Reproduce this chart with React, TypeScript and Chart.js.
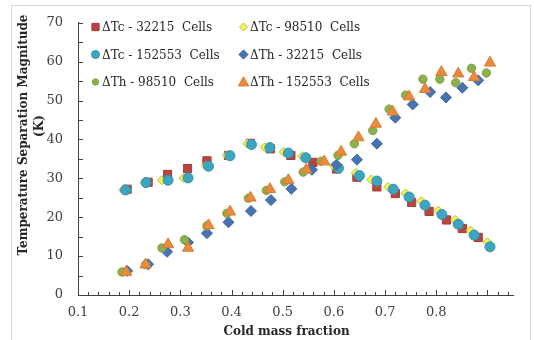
import React, { useEffect, useRef } from 'react';
import { Chart, registerables } from 'chart.js';

Chart.register(...registerables);

// ---- data ----
const seriesLabels = [
  'ΔTc - 32215  Cells',
  'ΔTc - 98510  Cells',
  'ΔTc - 152553  Cells',
  'ΔTh - 32215  Cells',
  'ΔTh - 98510  Cells',
  'ΔTh - 152553  Cells',
];

const tc32215X = [0.196, 0.237, 0.275, 0.314, 0.352, 0.394, 0.437, 0.476, 0.516, 0.559, 0.605, 0.645, 0.684, 0.720, 0.752, 0.786, 0.820, 0.851, 0.882];
const tc32215Y = [27.2, 29.0, 31.0, 32.5, 34.5, 35.9, 39.0, 37.6, 35.9, 34.1, 32.4, 30.3, 27.8, 26.1, 23.8, 21.5, 19.3, 17.1, 14.8];

const tc98510X = [0.188, 0.230, 0.264, 0.306, 0.350, 0.391, 0.431, 0.465, 0.502, 0.538, 0.600, 0.643, 0.673, 0.706, 0.740, 0.771, 0.804, 0.837, 0.867, 0.900];
const tc98510Y = [27.0, 28.9, 29.5, 30.1, 33.2, 35.9, 38.9, 38.0, 36.8, 35.7, 33.2, 31.4, 29.7, 27.8, 26.1, 24.1, 21.7, 19.3, 16.6, 13.6];

const tc152553X = [0.193, 0.233, 0.276, 0.315, 0.355, 0.397, 0.439, 0.475, 0.511, 0.545, 0.609, 0.650, 0.684, 0.716, 0.747, 0.778, 0.811, 0.843, 0.874, 0.905];
const tc152553Y = [27.0, 28.9, 29.5, 30.1, 33.1, 35.8, 38.7, 37.9, 36.5, 35.3, 32.6, 30.7, 29.3, 27.2, 25.2, 23.1, 20.7, 18.2, 15.4, 12.4];

const th32215X = [0.196, 0.237, 0.274, 0.315, 0.352, 0.394, 0.438, 0.477, 0.517, 0.557, 0.605, 0.645, 0.684, 0.720, 0.754, 0.788, 0.819, 0.851, 0.882];
const th32215Y = [6.2, 7.9, 11.1, 13.5, 15.9, 18.7, 21.6, 24.4, 27.3, 32.2, 33.5, 34.8, 38.9, 45.6, 49.0, 52.2, 50.8, 53.3, 55.2];

const th98510X = [0.186, 0.232, 0.264, 0.308, 0.352, 0.391, 0.433, 0.468, 0.504, 0.540, 0.575, 0.608, 0.640, 0.676, 0.708, 0.740, 0.774, 0.807, 0.838, 0.869, 0.898];
const th98510Y = [5.9, 7.8, 12.1, 14.2, 17.8, 21.0, 24.9, 26.9, 29.1, 31.6, 34.4, 35.9, 38.9, 42.3, 47.8, 51.4, 55.5, 55.5, 54.6, 58.3, 57.1];

const th152553X = [0.194, 0.232, 0.276, 0.315, 0.355, 0.397, 0.437, 0.475, 0.511, 0.546, 0.581, 0.614, 0.648, 0.682, 0.715, 0.747, 0.778, 0.810, 0.843, 0.874, 0.905];
const th152553Y = [5.9, 7.8, 13.0, 12.1, 17.9, 21.4, 25.0, 27.2, 29.5, 32.2, 34.3, 36.8, 40.5, 44.0, 47.1, 51.0, 52.9, 57.3, 56.9, 56.0, 59.7];

const xTitle = 'Cold mass fraction';
const yTitleLines = ['Temperature Separation Magnitude', '(K)'];

// ---- styles ----
const seriesX = [tc32215X, tc98510X, tc152553X, th32215X, th98510X, th152553X];
const seriesY = [tc32215Y, tc98510Y, tc152553Y, th32215Y, th98510Y, th152553Y];
const fills = ['#b8453f', '#f3f35a', '#3ea5c0', '#4773b3', '#8db04f', '#ea8a3c'];
const borders = ['#a63c37', '#bdbd3c', '#3393ac', '#3d66a2', '#80a344', '#d57c34'];
const shapes = ['rect', 'rectRot', 'circle', 'rectRot', 'circle', 'triangle'];
const radii = [5.8, 4.5, 5, 5.5, 4.2, 6.5];
const legendSizes = [3.6, 4, 4, 4.6, 3.2, 5.2];

const FONT = '"DejaVu Serif", serif';

function drawShape(ctx: CanvasRenderingContext2D, shape: string, x: number, y: number, r: number) {
  ctx.beginPath();
  if (shape === 'rect') {
    ctx.rect(x - r, y - r, 2 * r, 2 * r);
  } else if (shape === 'rectRot') {
    ctx.moveTo(x, y - r);
    ctx.lineTo(x + r, y);
    ctx.lineTo(x, y + r);
    ctx.lineTo(x - r, y);
    ctx.closePath();
  } else if (shape === 'circle') {
    ctx.arc(x, y, r, 0, Math.PI * 2);
  } else {
    ctx.moveTo(x, y - r);
    ctx.lineTo(x + r, y + r * 0.75);
    ctx.lineTo(x - r, y + r * 0.75);
    ctx.closePath();
  }
}

const decor = {
  id: 'decor',
  beforeDraw(chart: any) {
    const ctx = chart.ctx as CanvasRenderingContext2D;
    ctx.save();
    ctx.strokeStyle = '#d9d9d9';
    ctx.lineWidth = 1;
    ctx.strokeRect(11.5, 5.5, 519, 340);
    ctx.restore();
  },
  afterDraw(chart: any) {
    const ctx = chart.ctx as CanvasRenderingContext2D;
    const xs = chart.scales.x;
    const ys = chart.scales.y;
    const area = chart.chartArea;
    ctx.save();
    ctx.strokeStyle = '#404040';
    ctx.lineWidth = 1;
    // x ticks (inside), every 0.02
    for (let i = 0; i <= 42; i++) {
      const v = 0.1 + i * 0.02;
      if (v > 0.951) break;
      const px = Math.round(xs.getPixelForValue(v)) + 0.5;
      const major = i % 5 === 0;
      ctx.beginPath();
      ctx.moveTo(px, area.bottom);
      ctx.lineTo(px, area.bottom - (major ? 5 : 3));
      ctx.stroke();
    }
    // y ticks (inside), every 5
    for (let v = 0; v <= 70; v += 5) {
      const py = Math.round(ys.getPixelForValue(v)) + 0.5;
      ctx.beginPath();
      ctx.moveTo(area.left, py);
      ctx.lineTo(area.left + 5, py);
      ctx.stroke();
    }
    // titles
    ctx.fillStyle = '#262626';
    ctx.font = `bold 12px ${FONT}`;
    ctx.textAlign = 'center';
    ctx.textBaseline = 'middle';
    ctx.fillText(xTitle, 286.5, 332);
    ctx.save();
    ctx.translate(24, 135);
    ctx.rotate(-Math.PI / 2);
    ctx.fillText(yTitleLines[0], 0, 0);
    ctx.restore();
    ctx.save();
    ctx.translate(40, 126);
    ctx.rotate(-Math.PI / 2);
    ctx.fillText(yTitleLines[1], 0, 0);
    ctx.restore();
    // legend
    ctx.font = `12px ${FONT}`;
    ctx.textAlign = 'left';
    for (let i = 0; i < seriesLabels.length; i++) {
      const col = i % 2;
      const row = Math.floor(i / 2);
      const mx = col ? 243.5 : 95.5;
      const tx = col ? 250 : 102;
      const y = 27 + row * 27.5;
      drawShape(ctx, shapes[i], mx, y, legendSizes[i]);
      ctx.fillStyle = fills[i];
      ctx.fill();
      ctx.strokeStyle = borders[i];
      ctx.stroke();
      ctx.fillStyle = '#262626';
      ctx.fillText(seriesLabels[i], tx, y + 1);
    }
    ctx.restore();
  },
};

export default function App() {
  const ref = useRef<HTMLCanvasElement>(null);
  useEffect(() => {
    if (!ref.current) return;
    const datasets = seriesLabels.map((label, i) => ({
      label,
      data: seriesX[i].map((x, k) => ({ x, y: seriesY[i][k] })),
      pointStyle: shapes[i],
      pointRadius: radii[i],
      pointHoverRadius: radii[i],
      backgroundColor: fills[i],
      borderColor: borders[i],
      borderWidth: 1,
      showLine: false,
      order: seriesLabels.length - i,
    }));
    const chart = new Chart(ref.current, {
      type: 'scatter',
      data: { datasets },
      plugins: [decor],
      options: {
        animation: false,
        responsive: false,
        devicePixelRatio: 1,
        layout: { padding: { top: 16, right: 21, left: 0, bottom: 0 } },
        plugins: { legend: { display: false }, tooltip: { enabled: false } },
        scales: {
          x: {
            type: 'linear',
            min: 0.1,
            max: 0.95,
            grid: { display: true, drawOnChartArea: false, drawTicks: false },
            border: { display: true, color: '#404040', width: 1 },
            ticks: {
              stepSize: 0.1,
              autoSkip: false,
              maxRotation: 0,
              minRotation: 0,
              padding: 10,
              color: '#404040',
              font: { family: FONT, size: 13 },
              callback: (v: any) => {
                const n = Number(v);
                return Math.abs(n * 10 - Math.round(n * 10)) < 1e-6 ? n.toFixed(1) : '';
              },
            },
            afterFit: (s: any) => { s.height = 45; s.paddingLeft = 0; s.paddingRight = 0; },
          },
          y: {
            type: 'linear',
            min: 0,
            max: 70,
            grid: { display: true, drawOnChartArea: false, drawTicks: false },
            border: { display: true, color: '#404040', width: 1 },
            ticks: {
              stepSize: 10,
              padding: 15,
              color: '#404040',
              font: { family: FONT, size: 13 },
            },
            afterFit: (s: any) => { s.width = 78; },
          },
        },
      },
    } as any);
    return () => chart.destroy();
  }, []);
  return (
    <div style={{ position: 'absolute', left: 0, top: 0, width: 534, height: 340, background: '#fff' }}>
      <canvas ref={ref} width={534} height={340} style={{ width: 534, height: 340, display: 'block' }} />
    </div>
  );
}
